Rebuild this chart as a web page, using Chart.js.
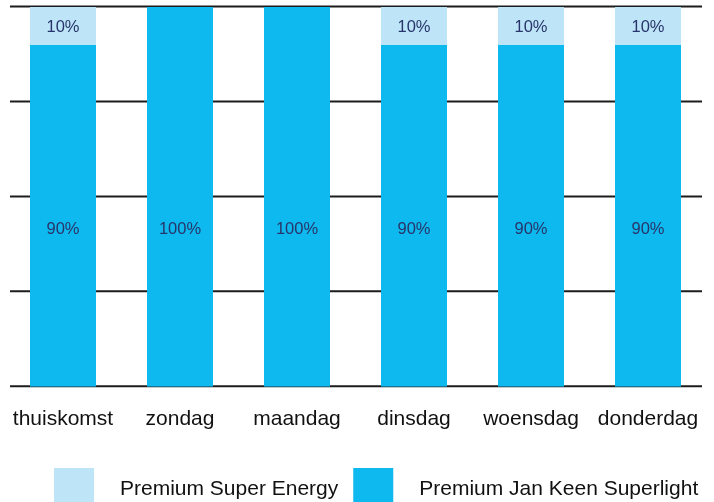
<!DOCTYPE html>
<html><head><meta charset="utf-8">
<script src="https://cdn.jsdelivr.net/npm/chart.js@4/dist/chart.umd.min.js"></script>
<style>html,body{margin:0;padding:0;background:#fff}#wrap{width:714px;height:502px}</style>
</head><body><div id="wrap"><canvas id="c" width="714" height="502"></canvas></div>
<script>
const categories = ['thuiskomst','zondag','maandag','dinsdag','woensdag','donderdag'];
const superlight = [90,100,100,90,90,90];
const superEnergy = [10,0,0,10,10,10];
const seriesNames = ['Premium Jan Keen Superlight','Premium Super Energy'];
const yTicks = [0,25,50,75,100];

const FONT = '"Liberation Sans", Arial, Helvetica, sans-serif';
const DARK = '#0db9ee';
const LIGHT = '#bee4f8';
const LABEL_COLOR = '#28356a';

const gridPlugin = {
  id: 'gridLines',
  beforeDatasetsDraw(chart) {
    const {ctx, chartArea, scales} = chart;
    ctx.save();
    ctx.strokeStyle = '#1c1c1c';
    ctx.lineWidth = 2;
    yTicks.forEach(v => {
      const y = scales.y.getPixelForValue(v) - 0.5;
      ctx.beginPath();
      ctx.moveTo(chartArea.left + 5.5, y);
      ctx.lineTo(chartArea.right - 4.5, y);
      ctx.stroke();
    });
    ctx.restore();
  }
};

const valueLabels = {
  id: 'valueLabels',
  afterDatasetsDraw(chart) {
    const {ctx, scales} = chart;
    ctx.save();
    ctx.font = '16.5px ' + FONT;
    ctx.fillStyle = LABEL_COLOR;
    ctx.textAlign = 'center';
    ctx.textBaseline = 'middle';
    chart.data.datasets.forEach((ds, di) => {
      const meta = chart.getDatasetMeta(di);
      meta.data.forEach((el, i) => {
        const v = ds.data[i];
        if (!v) return;
        let y;
        if (di === 0) y = scales.y.getPixelForValue(41.5);
        else y = (el.y + el.base) / 2 + 1;
        ctx.fillText(v + '%', el.x, y);
      });
    });
    ctx.restore();
  }
};

const customLegend = {
  id: 'customLegend',
  afterDraw(chart) {
    const {ctx} = chart;
    ctx.save();
    ctx.font = '21px ' + FONT;
    ctx.textBaseline = 'alphabetic';
    ctx.textAlign = 'left';
    let x = 54;
    const top = 468, box = 40;
    [1, 0].forEach(di => {
      const ds = chart.data.datasets[di];
      ctx.fillStyle = ds.backgroundColor;
      ctx.fillRect(x, top, box, box);
      x += box + 26;
      ctx.fillStyle = '#111';
      ctx.fillText(ds.label, x, 495);
      x += ctx.measureText(ds.label).width + 15;
    });
    ctx.restore();
  }
};

new Chart(document.getElementById('c'), {
  type: 'bar',
  data: {
    labels: categories,
    datasets: [
      {label: seriesNames[0], data: superlight, backgroundColor: DARK, borderWidth: 0},
      {label: seriesNames[1], data: superEnergy, backgroundColor: LIGHT, borderWidth: 0}
    ]
  },
  options: {
    responsive: false,
    devicePixelRatio: 1,
    animation: false,
    categoryPercentage: 1,
    barPercentage: 0.564,
    layout: {padding: {left: 4.5, right: 7.5, top: 7, bottom: 50}},
    plugins: {legend: {display: false}, tooltip: {enabled: false}},
    scales: {
      x: {
        stacked: true,
        grid: {display: false, drawTicks: false},
        border: {display: false},
        ticks: {font: {size: 21, family: FONT}, color: '#111', padding: 20, maxRotation: 0, autoSkip: false},
        afterFit(s) { s.paddingLeft = 0; s.paddingRight = 0; }
      },
      y: {
        stacked: true, min: 0, max: 100, display: false
      }
    }
  },
  plugins: [gridPlugin, valueLabels, customLegend]
});
</script>
</body></html>
